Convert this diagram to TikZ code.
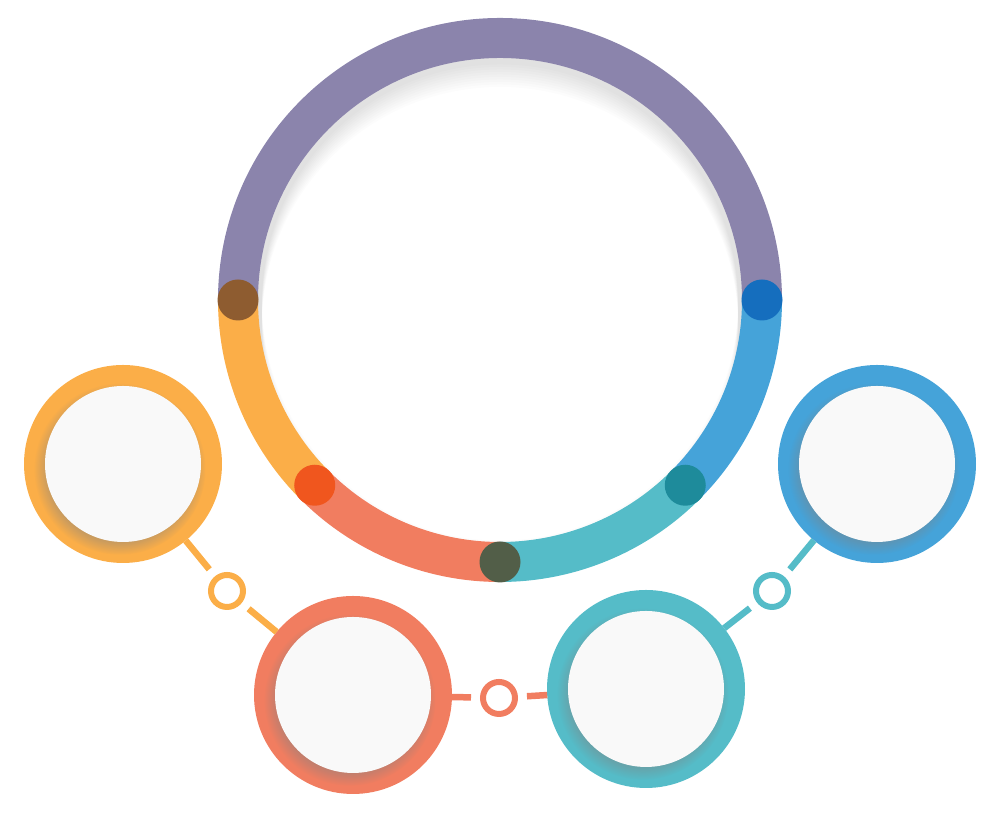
\documentclass[tikz,border=0pt]{standalone}
\usetikzlibrary{shadows}
\usetikzlibrary{positioning}
\usetikzlibrary{calc}
\definecolor{ringpurple}{RGB}{139,132,172}
\definecolor{ringblue}{RGB}{69,163,217}
\definecolor{ringteal}{RGB}{85,188,200}
\definecolor{ringsalmon}{RGB}{241,125,96}
\definecolor{ringorange}{RGB}{251,174,72}
\definecolor{dotbrown}{RGB}{142,92,48}
\definecolor{dotblue}{RGB}{21,110,190}
\definecolor{dotteal}{RGB}{30,139,155}
\definecolor{dotolive}{RGB}{82,94,72}
\definecolor{dotred}{RGB}{240,86,30}
\tikzstyle{bubble}=[circle,minimum size=19.8mm,inner sep=0pt,outer sep=0pt]
\tikzstyle{disc}=[circle,fill=gray!5,minimum size=15.6mm,inner sep=0pt,circular drop shadow={shadow xshift=-0.3mm,shadow yshift=-0.45mm,opacity=0.4}]
\tikzstyle{link}=[circle,draw,fill=white,line width=0.6mm,minimum size=3.2mm,inner sep=0pt,outer sep=1.2mm]
\tikzstyle{connect}=[line width=0.65mm]
\tikzstyle{segment}=[line width=4mm]
\tikzstyle{joint}=[circle,minimum size=4.1mm,inner sep=0pt]
\tikzstyle{haze}=[black,opacity=0.012,even odd rule]

\begin{document}
\begin{tikzpicture}[x=0.1mm,y=0.1mm]
\useasboundingbox (0,0) rectangle (1000,814);

%big ring
    \coordinate (mid) at (500,514);
    \begin{scope}
      \clip (mid) circle (243);
      \foreach \i in {1,...,10}
          \fill[haze] (mid) circle (243) ($(mid)+(0,-2.5*\i)$) circle (238);
    \end{scope}

  \foreach \from/\to/\col in {0/180/ringpurple, 0/-45/ringblue, -45/-90/ringteal, -90/-135/ringsalmon, -135/-180/ringorange}
          \draw[segment, \col] ($(mid)+(\from:262)$) arc (\from:\to:262);

  \foreach \ang/\name/\col in {180/jw/dotbrown, 0/je/dotblue, -45/jse/dotteal, -90/js/dotolive, -135/jsw/dotred}
          \node[joint, fill=\col] (\name) at ($(mid)+(\ang:262)$) {};

%bubbles
    \foreach \pos/\name/\col in {{(123,350)/cw/ringorange}, {(353,119)/csw/ringsalmon}, {(646,125)/cse/ringteal}, {(877,350)/ce/ringblue}}
    {
        \node[bubble, fill=\col] (\name) at \pos {};
        \node[disc] at (\name) {};
    }

%links
    \foreach \pos/\name/\col in {{(227,223)/lw/ringorange}, {(499,116)/ls/ringsalmon}, {(772,223)/le/ringteal}}
        \node[link, draw=\col] (\name) at \pos {};

  \foreach \source/\dest/\col in {cw/lw/ringorange, lw/csw/ringorange, csw/ls/ringsalmon, ls/cse/ringsalmon, cse/le/ringteal, le/ce/ringteal}
          \draw[connect, \col] (\source) -- (\dest);

\end{tikzpicture}
\end{document}
